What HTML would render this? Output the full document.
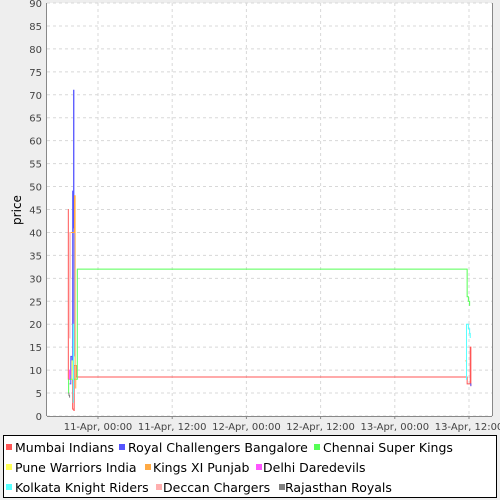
<!DOCTYPE html>
<html><head><meta charset="utf-8"><style>
body{margin:0;background:#eeeeee;font-family:"DejaVu Sans","Liberation Sans",sans-serif}
svg{display:block}
</style></head><body>
<svg id="chart" width="500" height="500">
<rect x="0" y="0" width="500" height="500" fill="#eeeeee"/>
<rect x="47" y="3" width="445" height="413" fill="#ffffff"/>
<g id="grid"></g><g id="series"></g><g id="axes"></g>
<text x="21" y="210" font-size="12" transform="rotate(-90 21 210)" text-anchor="middle">price</text>
<rect x="3.5" y="435.5" width="493" height="62" fill="#fff" stroke="#000"/>
<g id="legend" font-size="12.5"></g>
</svg>
<script>
const yTicks=[0,5,10,15,20,25,30,35,40,45,50,55,60,65,70,75,80,85,90];
const xTickHours=[0,12,24,36,48,60];
const xTickLabels=["11-Apr, 00:00","11-Apr, 12:00","12-Apr, 00:00","12-Apr, 12:00","13-Apr, 00:00","13-Apr, 12:00"];
const seriesNames=["Mumbai Indians","Royal Challengers Bangalore","Chennai Super Kings","Pune Warriors India","Kings XI Punjab","Delhi Daredevils","Kolkata Knight Riders","Deccan Chargers","Rajasthan Royals"];
const seriesColors=["#ff5555","#5555ff","#55ff55","#ffff55","#ffaa44","#ff55ff","#55ffff","#ffafaf","#808080"];
// null value = gap (line break)
const miT=[-4.85,-4.8,-4.1,-3.9,-3.85,-3.6,-3.5,59.5,59.7,60.1,60.2,60.3];
const miV=[45,8,1.5,1.2,11,11,8.5,8.5,7,7,15,6.5];
const rcbT=[-4.6,-4.4,-4.2,-4.1,-4.0,-3.95,-3.9,-3.85,60.2,60.3];
const rcbV=[7,13,12,49,41,71,13,null,7,6.5];
const cskT=[-4.85,-4.75,-3.4,-3.35,59.6,59.7,59.9,60.1];
const cskV=[5,8,8,32,32,26,25,24];
const pwT=[-4.3,-4.2,-4.1];
const pwV=[8,12,10];
const kxT=[-4.4,-3.8,-3.7,-3.6,-3.55,59.4,59.6];
const kxV=[40,48,11,6,null,12,10];
const ddT=[-4.7,-4.6,-4.5];
const ddV=[8,10,9];
const kkrT=[-4.1,-4.0,-3.95,-3.9,59.5,59.6,59.9,60.1,60.2];
const kkrV=[3,20,5,null,8,20,19,18,17];
const dcT=[-4.6,-4.55,-4.5];
const dcV=[17,40,30];
const rrT=[-4.75,-4.7,-4.6];
const rrV=[5,4.5,4];
const allT=[miT,rcbT,cskT,pwT,kxT,ddT,kkrT,dcT,rrT];
const allV=[miV,rcbV,cskV,pwV,kxV,ddV,kkrV,dcV,rrV];
const NS="http://www.w3.org/2000/svg";
const X0=47,X1=492,Y0=416,Y1=3;
function xs(t){return 98+t*74.2/12;}
function ys(v){return Y0-(v/90)*(Y0-Y1);}
function mk(tag,attrs,parent){const e=document.createElementNS(NS,tag);for(const k in attrs)e.setAttribute(k,attrs[k]);parent.appendChild(e);return e;}
const grid=document.getElementById('grid'),axes=document.getElementById('axes'),ser=document.getElementById('series'),leg=document.getElementById('legend');
yTicks.forEach(v=>{
 const l=mk('line',{x1:X0,x2:X1,y1:ys(v),y2:ys(v),stroke:'#d8d8d8','stroke-dasharray':'3,3'},grid);
 
 
 const t=mk('text',{x:42,y:ys(v)+4,'font-size':10,'text-anchor':'end',fill:'#444'},axes);
 t.textContent=v;
 
 
});
xTickHours.forEach((h,i)=>{
 const x=xs(h);
 const l=mk('line',{x1:x,x2:x,y1:Y1,y2:Y0,stroke:'#d8d8d8','stroke-dasharray':'3,3'},grid);
 
 
 mk('line',{x1:x,x2:x,y1:Y0,y2:Y0+3,stroke:'#888'},axes);
 const t=mk('text',{x:x,y:430,'font-size':10,'text-anchor':'middle',fill:'#444'},axes);
 t.textContent=xTickLabels[i];
 
 
});
mk('line',{x1:X0,x2:X1,y1:Y0+0.5,y2:Y0+0.5,stroke:'#888'},axes);
mk('line',{x1:X0-0.5,x2:X0-0.5,y1:Y1,y2:Y0,stroke:'#888'},axes);
mk('line',{x1:X1+0.5,x2:X1+0.5,y1:Y1,y2:Y0,stroke:'#888'},axes);
allT.forEach((T,s)=>{
 let d='',brk=true;
 T.forEach((t,i)=>{const v=allV[s][i];
  if(v===null){brk=true;return;}
  const x=xs(t),y=ys(v);
  if(brk){d+='M'+x+','+y;brk=false;}else d+='H'+x+'V'+y;});
 const p=mk('path',{d:d,fill:'none',stroke:seriesColors[s],'stroke-width':1},ser);
 
 
});
const legMarkX=[5,118,313,5,144,255,5,155,278];
const legTextX=[15,128,323,15,153,263,15,163,285];
const legY=[452,452,452,472,472,472,492,492,492];
seriesNames.forEach((n,i)=>{
 const x=legMarkX[i],y=legY[i];
 mk('rect',{x:x+1,y:y-8,width:6,height:6,fill:seriesColors[i]},leg);
 const t=mk('text',{x:legTextX[i],y:y},leg);
 t.textContent=n;
 
 
});
</script>
</body></html>
